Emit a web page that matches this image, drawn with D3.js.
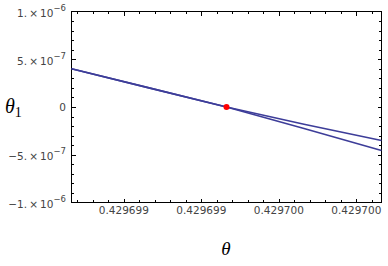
<!DOCTYPE html>
<html><head><meta charset="utf-8">
<script src="https://cdn.jsdelivr.net/npm/d3@7"></script>
<style>body{margin:0;background:#fff}svg{display:block}</style>
</head><body>
<svg id="c" width="388" height="266"></svg>
<script>
// ---- data ----
const thetaValues = [0.42969853, 0.42969893, 0.42969933, 0.42969973, 0.42970013];
const theta1Upper = [4.0e-7, 2.0e-7, 0, -1.8e-7, -3.5e-7];
const theta1Lower = [4.0e-7, 2.0e-7, 0, -2.25e-7, -4.55e-7];
const pointTheta = [0.42969933];
const pointTheta1 = [0];
const xDomain = [0.42969853, 0.42970013];
const yDomain = [-1e-6, 1e-6];
const xMajorTicks = [0.4296988, 0.4296992, 0.4296996, 0.4297000];
const xTickLabels = ["0.429699", "0.429699", "0.429700", "0.429700"];
const yMajorTicks = [1e-6, 5e-7, 0, -5e-7, -1e-6];
const yTickLabels = [["1.\u2009\u00d7\u200910", "\u22126"], ["5.\u2009\u00d7\u200910", "\u22127"], ["0", ""], ["\u22125.\u2009\u00d7\u200910", "\u22127"], ["\u22121.\u2009\u00d7\u200910", "\u22126"]];

const svg = d3.select("#c");
const L = 71.5, R = 381.5, T = 11.5, B = 202.5;
const x = d3.scaleLinear().domain(xDomain).range([L, R]);
const y = d3.scaleLinear().domain(yDomain).range([B, T]);

// minor ticks
const xMinor = d3.range(-6, 30).map(i => 0.4296988 + i * 8e-8).filter(v => v > xDomain[0] && v < xDomain[1]);
const yMinor = d3.range(-10, 11).map(i => i * 1e-7).filter(v => v > yDomain[0] && v < yDomain[1]);
const isMajorX = v => xMajorTicks.some(t => Math.abs(t - v) < 1e-10);
const isMajorY = v => yMajorTicks.some(t => Math.abs(t - v) < 1e-12);

const axG = svg.append("g").attr("stroke", "#000").attr("stroke-width", 1).attr("shape-rendering", "crispEdges");
// frame
axG.append("rect").attr("x", L).attr("y", T).attr("width", R - L).attr("height", B - T).attr("fill", "none");
// x ticks (bottom and top)
xMinor.forEach(v => {
  const len = isMajorX(v) ? 4 : 2.5;
  const px = Math.round(x(v)) + 0.5;
  axG.append("line").attr("x1", px).attr("x2", px).attr("y1", B).attr("y2", B - len);
  axG.append("line").attr("x1", px).attr("x2", px).attr("y1", T).attr("y2", T + len);
});
yMinor.forEach(v => {
  const len = isMajorY(v) ? 4 : 2.5;
  const py = Math.round(y(v)) + 0.5;
  axG.append("line").attr("x1", L).attr("x2", L + len).attr("y1", py).attr("y2", py);
  axG.append("line").attr("x1", R).attr("x2", R - len).attr("y1", py).attr("y2", py);
});

// x tick labels
const lab = svg.append("g").attr("font-family", "DejaVu Sans, sans-serif").attr("font-size", "10.5px").attr("fill", "#444");
xMajorTicks.forEach((v, i) => {
  lab.append("text").attr("x", x(v)).attr("y", 214).attr("text-anchor", "middle").text(xTickLabels[i]);
});
// y tick labels
yMajorTicks.forEach((v, i) => {
  const t = lab.append("text").attr("x", 66).attr("y", y(v) + (yTickLabels[i][1] ? 5.5 : 3.5)).attr("text-anchor", "end");
  t.append("tspan").text(yTickLabels[i][0]);
  if (yTickLabels[i][1]) t.append("tspan").attr("dy", -6).attr("font-size", "8.5px").text(yTickLabels[i][1]);
});

// lines
const line = d3.line().x(d => x(d[0])).y(d => y(d[1]));
[theta1Upper, theta1Lower].forEach(s => {
  svg.append("path").datum(thetaValues.map((t, i) => [t, s[i]]))
    .attr("d", line).attr("fill", "none").attr("stroke", "#3d3d99").attr("stroke-width", 1.6);
});
// point
svg.selectAll("circle.p").data(pointTheta.map((t, i) => [t, pointTheta1[i]])).enter()
  .append("circle").attr("cx", d => x(d[0])).attr("cy", d => y(d[1])).attr("r", 3).attr("fill", "#ff0000");

// axis titles
const ttl = svg.append("g").attr("font-family", "Liberation Serif, Times New Roman, serif").attr("font-style", "italic").attr("fill", "#000");
ttl.append("text").attr("x", 226).attr("y", 255).attr("text-anchor", "middle").attr("font-size", "19px").text("\u03b8");
const yl = ttl.append("text").attr("x", 5).attr("y", 113).attr("font-size", "20px");
yl.append("tspan").text("\u03b8");
yl.append("tspan").attr("font-style", "normal").attr("font-size", "14px").attr("dy", 4).text("1");
</script>
</body></html>
